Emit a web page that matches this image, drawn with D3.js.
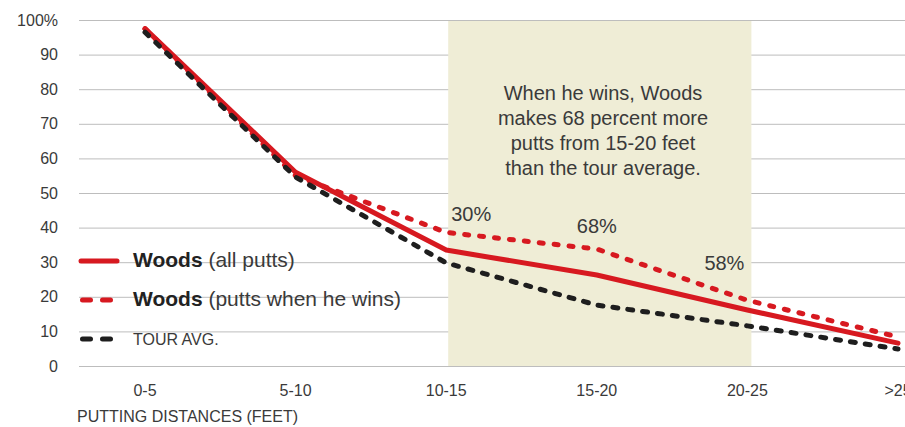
<!DOCTYPE html>
<html>
<head>
<meta charset="utf-8">
<script src="https://cdn.jsdelivr.net/npm/d3@7"></script>
<style>
  body { margin: 0; background: #fff; }
  svg { display: block; font-family: "Liberation Sans", Arial, sans-serif; }
</style>
</head>
<body>
<div id="chart"></div>
<script>
// putting distances (feet)
var categories = ["0-5", "5-10", "10-15", "15-20", "20-25", ">25"];
// percent of putts made
var woodsAll  = [97.5, 56, 33.5, 26.3, 16.2, 6.6];
var woodsWins = [97.5, 55, 38.6, 33.8, 19, 8.4];
var tourAvg   = [96.5, 54.6, 29.8, 17.6, 11.6, 4.9];
var yTicks = [0, 10, 20, 30, 40, 50, 60, 70, 80, 90, 100];
var diffLabels = ["30%", "68%", "58%"];
var diffCats = ["10-15", "15-20", "20-25"];
var noteLines = ["When he wins, Woods", "makes 68 percent more", "putts from 15-20 feet", "than the tour average."];

var W = 905, H = 427;
var red = "#d71920", black = "#1e1e1e", ink = "#3a3a3a";

var svg = d3.select("#chart").append("svg")
    .attr("width", W)
    .attr("height", H);

// set the ranges
var x = d3.scalePoint().domain(categories).range([145, 898]);
var y = d3.scaleLinear().domain([0, 100]).range([366, 20]);

// gridlines
svg.append("g")
    .selectAll("line")
    .data(yTicks)
    .enter().append("line")
    .attr("x1", 79).attr("x2", W)
    .attr("y1", function(d) { return y(d) + 0.5; })
    .attr("y2", function(d) { return y(d) + 0.5; })
    .attr("stroke", "#bdbdbd")
    .attr("stroke-width", 1);

// shaded highlight band 10-15 .. 20-25
svg.append("rect")
    .attr("x", x("10-15") + 2)
    .attr("y", y(100) + 1)
    .attr("width", x("20-25") - x("10-15") + 2)
    .attr("height", y(0) - y(100) - 1)
    .attr("fill", "#efedd6");

// y labels
svg.append("g")
    .selectAll("text")
    .data(yTicks)
    .enter().append("text")
    .attr("x", 58)
    .attr("y", function(d) { return y(d); })
    .attr("dy", "0.35em")
    .attr("text-anchor", "end")
    .attr("font-size", 16)
    .attr("fill", ink)
    .text(function(d) { return d === 100 ? "100%" : d; });

// x labels
svg.append("g")
    .selectAll("text")
    .data(categories)
    .enter().append("text")
    .attr("x", function(d) { return x(d); })
    .attr("y", 390)
    .attr("dy", "0.35em")
    .attr("text-anchor", "middle")
    .attr("font-size", 16)
    .attr("fill", ink)
    .text(function(d) { return d; });

svg.append("text")
    .attr("x", 77).attr("y", 416)
    .attr("dy", "0.35em")
    .attr("font-size", 16)
    .attr("fill", ink)
    .text("PUTTING DISTANCES (FEET)");

// lines
var line = d3.line()
    .x(function(d, i) { return x(categories[i]); })
    .y(function(d) { return y(d); });

svg.append("path").datum(woodsAll)
    .attr("d", line).attr("fill", "none")
    .attr("stroke", red).attr("stroke-width", 5)
    .attr("stroke-linejoin", "round").attr("stroke-linecap", "round");

svg.append("path").datum(woodsWins)
    .attr("d", line).attr("fill", "none")
    .attr("stroke", red).attr("stroke-width", 5)
    .attr("stroke-dasharray", "4,11").attr("stroke-linecap", "round");

svg.append("path").datum(tourAvg)
    .attr("d", line).attr("fill", "none")
    .attr("stroke", black).attr("stroke-width", 5)
    .attr("stroke-dasharray", "5,10").attr("stroke-linecap", "round");

// difference labels (offsets from the "wins" point)
var labelOffsets = [[25, -18], [0, -23], [-23, -37]];
svg.append("g")
    .selectAll("text")
    .data(diffLabels)
    .enter().append("text")
    .attr("x", function(d, i) { return x(diffCats[i]) + labelOffsets[i][0]; })
    .attr("y", function(d, i) { return y(woodsWins[categories.indexOf(diffCats[i])]) + labelOffsets[i][1]; })
    .attr("dy", "0.35em")
    .attr("text-anchor", "middle")
    .attr("font-size", 20)
    .attr("fill", ink)
    .text(function(d) { return d; });

// note
svg.append("g")
    .selectAll("text")
    .data(noteLines)
    .enter().append("text")
    .attr("x", 603)
    .attr("y", function(d, i) { return 93 + i * 25; })
    .attr("dy", "0.35em")
    .attr("text-anchor", "middle")
    .attr("font-size", 20)
    .attr("fill", ink)
    .text(function(d) { return d; });

// legend
var legend = [
  {bold: "Woods", rest: " (all putts)", color: red, dash: null, y: 261},
  {bold: "Woods", rest: " (putts when he wins)", color: red, dash: "8,12", y: 300},
  {bold: "", rest: "TOUR AVG.", color: black, dash: "8,12", y: 339}
];
var lg = svg.append("g").selectAll("g").data(legend).enter().append("g");
lg.append("line")
    .attr("x1", function(d) { return d.dash ? 82.5 : 81; })
    .attr("x2", function(d) { return d.dash ? 113 : 117; })
    .attr("y1", function(d) { return d.y; })
    .attr("y2", function(d) { return d.y; })
    .attr("stroke", function(d) { return d.color; })
    .attr("stroke-width", 5)
    .attr("stroke-linecap", "round")
    .attr("stroke-dasharray", function(d) { return d.dash; });
var lt = lg.append("text")
    .attr("x", 133)
    .attr("y", function(d) { return d.y; })
    .attr("dy", "0.35em")
    .attr("fill", "#222");
lt.append("tspan")
    .attr("font-weight", "bold")
    .attr("font-size", 21)
    .text(function(d) { return d.bold; });
lt.append("tspan")
    .attr("font-size", function(d) { return d.bold ? 21 : 16; })
    .attr("fill", ink)
    .text(function(d) { return d.rest; });
</script>
</body>
</html>
